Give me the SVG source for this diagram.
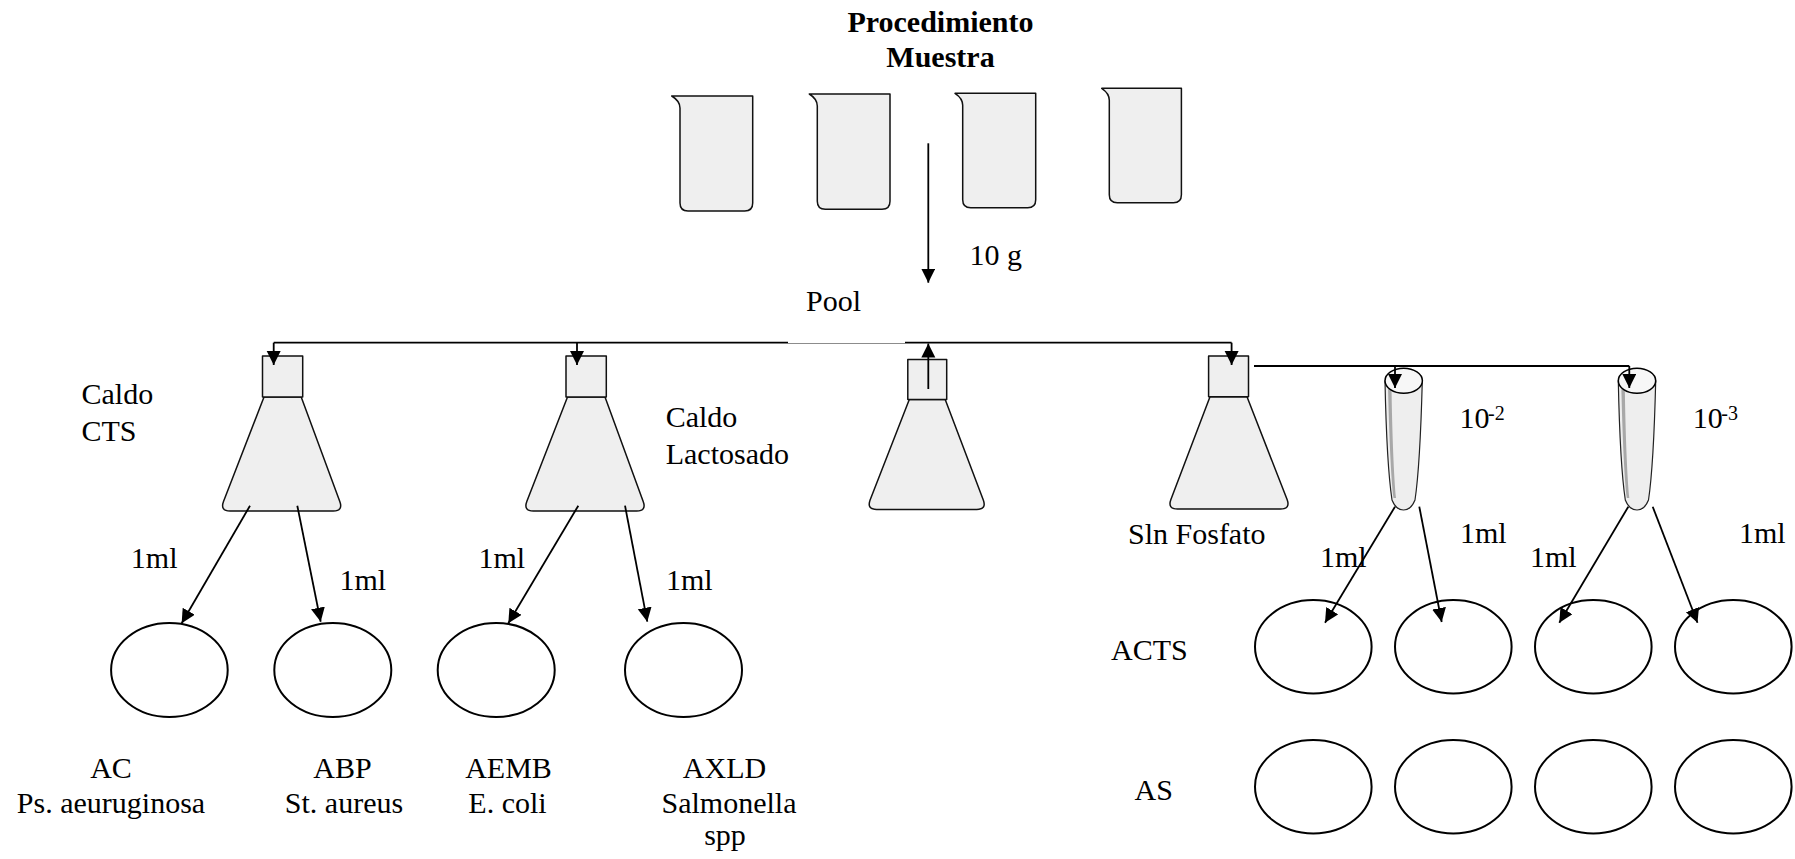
<svg xmlns="http://www.w3.org/2000/svg" width="1795" height="859" viewBox="0 0 1795 859">
<style>
text{font-family:"Liberation Serif","Times New Roman",serif;font-size:30px;fill:#000}
.b{font-weight:bold}
.m{text-anchor:middle}
.sup{font-size:20px}
.glass{fill:#efefef;stroke:#111;stroke-width:1.5;stroke-linejoin:round}
.plate{fill:#fff;stroke:#000;stroke-width:2}
.tube{fill:#eeeeee;stroke:#222;stroke-width:1.2}
.stripe{fill:#a8a8a8;stroke:none}
.ln{fill:none;stroke:#000;stroke-width:1.8}
.ar{fill:none;stroke:#000;stroke-width:1.8;marker-end:url(#ah)}
</style>
<defs>
<marker id="ah" markerUnits="userSpaceOnUse" markerWidth="16" markerHeight="16" refX="14" refY="7" orient="auto"><path d="M0,0 L14,7 L0,14 Z" fill="#000"/></marker>
</defs>
<rect width="1795" height="859" fill="#fff"/>

<g id="title">
<text class="b m" x="940.5" y="32">Procedimiento</text>
<text class="b m" x="940.5" y="67">Muestra</text>
</g>

<g id="beaker1"><path class="glass" d="M671.7,96 L752.7,96 L752.7,203 Q752.7,211 744.7,211 L688,211 Q680,211 680,203 L680,108 Q680,101 671.7,96 Z"/></g>
<g id="beaker2"><path class="glass" d="M809.3,94 L890,94 L890,201.3 Q890,209.3 882,209.3 L825.3,209.3 Q817.3,209.3 817.3,201.3 L817.3,106 Q817.3,99 809.3,94 Z"/></g>
<g id="beaker3"><path class="glass" d="M955,93.3 L1035.7,93.3 L1035.7,199.7 Q1035.7,207.7 1027.7,207.7 L970.7,207.7 Q962.7,207.7 962.7,199.7 L962.7,105.3 Q962.7,98.3 955,93.3 Z"/></g>
<g id="beaker4"><path class="glass" d="M1101.7,88.3 L1181.4,88.3 L1181.4,194.7 Q1181.4,202.7 1173.4,202.7 L1117.3,202.7 Q1109.3,202.7 1109.3,194.7 L1109.3,100.3 Q1109.3,93.3 1101.7,88.3 Z"/></g>

<g id="label-10g"><text x="969.4" y="265">10 g</text></g>
<g id="label-pool"><text x="806" y="311">Pool</text></g>

<g id="flask1">
<path class="glass" d="M264,397 L301.2,397 L339.8,501.6 Q343.3,511 333.3,511 L230,511 Q220,511 223.5,501.6 Z"/>
<rect class="glass" x="262.5" y="356" width="40.2" height="41"/>
</g>
<g id="flask2">
<path class="glass" d="M567.5,397 L605,397 L643.2,501.6 Q646.7,511 636.7,511 L533.3,511 Q523.3,511 526.8,501.6 Z"/>
<rect class="glass" x="566" y="356" width="40.3" height="41"/>
</g>
<g id="flask3">
<path class="glass" d="M909.3,399.5 L945.2,399.5 L983.3,500 Q986.8,509.4 976.8,509.4 L876.6,509.4 Q866.6,509.4 870.1,500 Z"/>
<rect class="glass" x="907.8" y="359.5" width="38.9" height="40"/>
</g>
<g id="flask4">
<path class="glass" d="M1210,396.7 L1247,396.7 L1287.1,499.6 Q1290.6,509 1280.6,509 L1177.4,509 Q1167.4,509 1170.9,499.6 Z"/>
<rect class="glass" x="1208.6" y="356" width="39.9" height="40.7"/>
</g>

<g id="label-caldo-cts"><text x="81.5" y="404">Caldo</text><text x="81.5" y="441">CTS</text></g>
<g id="label-caldo-lact"><text x="665.7" y="427">Caldo</text><text x="665.7" y="464">Lactosado</text></g>
<g id="label-sln"><text x="1128" y="544">Sln Fosfato</text></g>

<g id="tube1">
<path class="tube" d="M1385,381 C1386,430 1389,480 1392,500 Q1396,510 1403.5,510 Q1411,510 1415,500 C1418,480 1421,430 1422.3,381 Z"/>
<path class="stripe" d="M1388,386 C1389,430 1391,480 1393.5,498 L1396,498 C1394,480 1392,430 1391.5,386 Z"/>
<ellipse cx="1403.7" cy="380.8" rx="18.7" ry="12.5" fill="#f7f7f7" stroke="#000" stroke-width="1.5"/>
</g>
<g id="tube2">
<path class="tube" d="M1618.3,381 C1619.3,430 1622.3,480 1625.3,500 Q1629.3,510 1637,510 Q1644.5,510 1648.5,500 C1651.5,480 1654.5,430 1655.7,381 Z"/>
<path class="stripe" d="M1621.3,386 C1622.3,430 1624.3,480 1626.8,498 L1629.3,498 C1627.3,480 1625.3,430 1624.8,386 Z"/>
<ellipse cx="1637" cy="380.8" rx="18.7" ry="12.5" fill="#f7f7f7" stroke="#000" stroke-width="1.5"/>
</g>
<g id="label-dil2"><text x="1459.4" y="428">10</text><text class="sup" x="1488" y="420">-2</text></g>
<g id="label-dil3"><text x="1692.7" y="428">10</text><text class="sup" x="1721.3" y="420">-3</text></g>

<g id="plate-ac"><ellipse class="plate" cx="169.4" cy="670" rx="58.3" ry="47"/></g>
<g id="plate-abp"><ellipse class="plate" cx="332.8" cy="670" rx="58.5" ry="47"/></g>
<g id="plate-aemb"><ellipse class="plate" cx="496.2" cy="670" rx="58.5" ry="47"/></g>
<g id="plate-axld"><ellipse class="plate" cx="683.5" cy="670" rx="58.5" ry="47"/></g>

<g id="label-ac"><text class="m" x="111" y="778">AC</text><text class="m" x="111" y="813">Ps. aeuruginosa</text></g>
<g id="label-abp"><text class="m" x="342.5" y="778">ABP</text><text class="m" x="344" y="813">St. aureus</text></g>
<g id="label-aemb"><text class="m" x="508.5" y="778">AEMB</text><text class="m" x="507.5" y="813">E. coli</text></g>
<g id="label-axld"><text class="m" x="724.5" y="778">AXLD</text><text class="m" x="729" y="813">Salmonella</text><text class="m" x="725" y="845">spp</text></g>

<g id="label-acts"><text x="1111" y="660">ACTS</text></g>
<g id="label-as"><text x="1134.5" y="800">AS</text></g>
<g id="plate-acts-1"><ellipse class="plate" cx="1313.3" cy="646.7" rx="58.3" ry="46.7"/></g>
<g id="plate-acts-2"><ellipse class="plate" cx="1453.3" cy="646.7" rx="58.3" ry="46.7"/></g>
<g id="plate-acts-3"><ellipse class="plate" cx="1593.3" cy="646.7" rx="58.3" ry="46.7"/></g>
<g id="plate-acts-4"><ellipse class="plate" cx="1733.3" cy="646.7" rx="58.3" ry="46.7"/></g>
<g id="plate-as-1"><ellipse class="plate" cx="1313.3" cy="786.7" rx="58.3" ry="46.7"/></g>
<g id="plate-as-2"><ellipse class="plate" cx="1453.3" cy="786.7" rx="58.3" ry="46.7"/></g>
<g id="plate-as-3"><ellipse class="plate" cx="1593.3" cy="786.7" rx="58.3" ry="46.7"/></g>
<g id="plate-as-4"><ellipse class="plate" cx="1733.3" cy="786.7" rx="58.3" ry="46.7"/></g>

<g id="labels-1ml">
<text x="130.8" y="568">1ml</text>
<text x="339.4" y="590">1ml</text>
<text x="478.4" y="568">1ml</text>
<text x="666" y="590">1ml</text>
<text x="1320" y="567">1ml</text>
<text x="1460" y="543">1ml</text>
<text x="1530" y="567">1ml</text>
<text x="1739" y="543">1ml</text>
</g>

<g id="connectors">
<line class="ar" x1="928.3" y1="143.3" x2="928.3" y2="282.7"/>
<line class="ln" x1="273.7" y1="342.7" x2="788" y2="342.7"/>
<line x1="788" y1="343.5" x2="905" y2="343.5" stroke="#000" stroke-width="1" stroke-opacity="0.45"/>
<line class="ln" x1="905" y1="342.7" x2="1231.6" y2="342.7"/>
<line class="ar" x1="273.7" y1="342.7" x2="273.7" y2="365"/>
<line class="ar" x1="577" y1="342.7" x2="577" y2="365"/>
<line class="ar" x1="1231.6" y1="342.7" x2="1231.6" y2="365"/>
<line class="ar" x1="928.3" y1="389" x2="928.3" y2="343.5"/>
<line class="ln" x1="1254" y1="366" x2="1629.3" y2="366"/>
<line class="ar" x1="1395" y1="366" x2="1395" y2="388"/>
<line class="ar" x1="1629.3" y1="366" x2="1629.3" y2="388"/>
<line class="ar" x1="250" y1="505.7" x2="181.7" y2="623.3"/>
<line class="ar" x1="297.3" y1="505.7" x2="320.7" y2="621.7"/>
<line class="ar" x1="578.3" y1="505.7" x2="508.3" y2="623.3"/>
<line class="ar" x1="625" y1="505.7" x2="647.3" y2="621.7"/>
<line class="ar" x1="1395" y1="506.7" x2="1325" y2="622.7"/>
<line class="ar" x1="1419.3" y1="506.7" x2="1441.7" y2="622"/>
<line class="ar" x1="1628.3" y1="506.7" x2="1559.3" y2="622.7"/>
<line class="ar" x1="1652.7" y1="506.7" x2="1697.5" y2="622.7"/>
</g>
</svg>
